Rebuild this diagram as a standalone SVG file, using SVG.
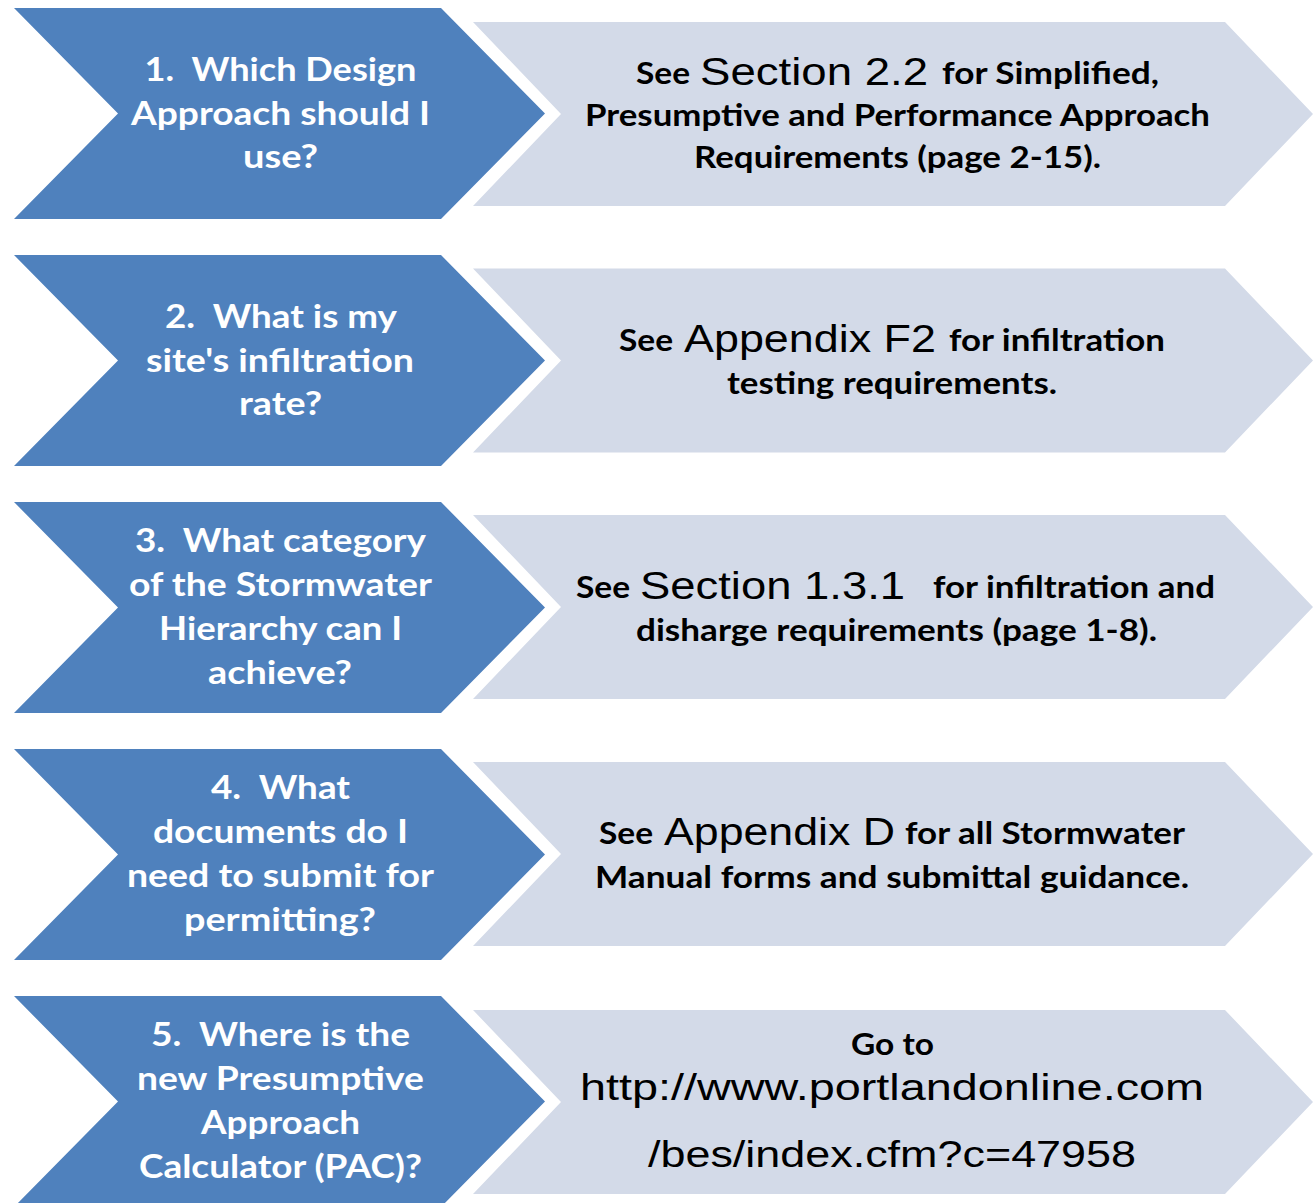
<svg xmlns="http://www.w3.org/2000/svg" width="1316" height="1203" viewBox="0 0 1316 1203" xml:space="preserve">
<style>
.blue{fill:#4F81BD}
.light{fill:#D3DAE8}
.q{font-family:Lato,"Open Sans","Liberation Sans",sans-serif;font-weight:700;font-size:33px;fill:#FFFFFF;text-anchor:middle;white-space:pre}
.a{font-family:Lato,"Open Sans","Liberation Sans",sans-serif;font-weight:700;font-size:30px;fill:#000000}
.c{text-anchor:middle}
.r{font-family:"Liberation Sans",Arial,sans-serif;font-weight:400;font-size:38px;fill:#000000}
.u{font-family:"Liberation Sans",Arial,sans-serif;font-weight:400;font-size:37px;fill:#000000;text-anchor:middle}
</style>
<defs>
<polygon id="bq" points="14,8 441,8 545,113.5 441,219 14,219 118,113.5"/>
<polygon id="la" points="473,22 1225,22 1313,114 1225,206 473,206 561,114"/>
</defs>
<rect width="1316" height="1203" fill="#FFFFFF"/>
<g id="connectors"></g>
<g id="q1">
<use href="#bq" class="blue"/>
<text class="q" x="280.5" y="80.5" textLength="272" lengthAdjust="spacingAndGlyphs">1.  Which Design</text>
<text class="q" x="280.5" y="124.5" textLength="299" lengthAdjust="spacingAndGlyphs">Approach should I</text>
<text class="q" x="280.5" y="168" textLength="75" lengthAdjust="spacingAndGlyphs">use?</text>
</g>
<g id="a1">
<use href="#la" class="light"/>
<text class="a" x="636" y="84" textLength="54" lengthAdjust="spacingAndGlyphs">See</text>
<text class="r" x="700" y="85" textLength="228" lengthAdjust="spacingAndGlyphs">Section 2.2</text>
<text class="a" x="942" y="84" textLength="217" lengthAdjust="spacingAndGlyphs">for Simplified,</text>
<text class="a c" x="897.5" y="126" textLength="625" lengthAdjust="spacingAndGlyphs">Presumptive and Performance Approach</text>
<text class="a c" x="897.5" y="168" textLength="407" lengthAdjust="spacingAndGlyphs">Requirements (page 2-15).</text>
</g>
<g id="q2">
<use href="#bq" class="blue" transform="translate(0,247)"/>
<text class="q" x="281" y="327.5" textLength="232" lengthAdjust="spacingAndGlyphs">2.  What is my</text>
<text class="q" x="280" y="371.5" textLength="268" lengthAdjust="spacingAndGlyphs">site's infiltration</text>
<text class="q" x="280.5" y="415" textLength="83" lengthAdjust="spacingAndGlyphs">rate?</text>
</g>
<g id="a2">
<use href="#la" class="light" transform="translate(0,246.5)"/>
<text class="a" x="619" y="351" textLength="54" lengthAdjust="spacingAndGlyphs">See</text>
<text class="r" x="684" y="352" textLength="252" lengthAdjust="spacingAndGlyphs">Appendix F2</text>
<text class="a" x="949" y="351" textLength="216" lengthAdjust="spacingAndGlyphs">for infiltration</text>
<text class="a c" x="892" y="394" textLength="330" lengthAdjust="spacingAndGlyphs">testing requirements.</text>
</g>
<g id="q3">
<use href="#bq" class="blue" transform="translate(0,494)"/>
<text class="q" x="280.5" y="551.5" textLength="291" lengthAdjust="spacingAndGlyphs">3.  What category</text>
<text class="q" x="280.5" y="595.5" textLength="303" lengthAdjust="spacingAndGlyphs">of the Stormwater</text>
<text class="q" x="280.5" y="639.5" textLength="243" lengthAdjust="spacingAndGlyphs">Hierarchy can I</text>
<text class="q" x="280" y="683.5" textLength="144" lengthAdjust="spacingAndGlyphs">achieve?</text>
</g>
<g id="a3">
<use href="#la" class="light" transform="translate(0,493)"/>
<text class="a" x="576" y="598" textLength="54" lengthAdjust="spacingAndGlyphs">See</text>
<text class="r" x="640" y="599" textLength="265" lengthAdjust="spacingAndGlyphs">Section 1.3.1</text>
<text class="a" x="933" y="598" textLength="282" lengthAdjust="spacingAndGlyphs">for infiltration and</text>
<text class="a c" x="896.5" y="641" textLength="521" lengthAdjust="spacingAndGlyphs">disharge requirements (page 1-8).</text>
</g>
<g id="q4">
<use href="#bq" class="blue" transform="translate(0,741)"/>
<text class="q" x="280.5" y="798.5" textLength="139" lengthAdjust="spacingAndGlyphs">4.  What</text>
<text class="q" x="280.5" y="842.5" textLength="255" lengthAdjust="spacingAndGlyphs">documents do I</text>
<text class="q" x="280.5" y="886.5" textLength="307" lengthAdjust="spacingAndGlyphs">need to submit for</text>
<text class="q" x="280" y="930.5" textLength="192" lengthAdjust="spacingAndGlyphs">permitting?</text>
</g>
<g id="a4">
<use href="#la" class="light" transform="translate(0,740)"/>
<text class="a" x="599" y="844" textLength="54" lengthAdjust="spacingAndGlyphs">See</text>
<text class="r" x="664" y="845" textLength="231" lengthAdjust="spacingAndGlyphs">Appendix D</text>
<text class="a" x="905" y="844" textLength="280" lengthAdjust="spacingAndGlyphs">for all Stormwater</text>
<text class="a c" x="892" y="888" textLength="594" lengthAdjust="spacingAndGlyphs">Manual forms and submittal guidance.</text>
</g>
<g id="q5">
<use href="#bq" class="blue" transform="translate(0,988)"/>
<text class="q" x="280.5" y="1045.5" textLength="259" lengthAdjust="spacingAndGlyphs">5.  Where is the</text>
<text class="q" x="280.5" y="1089.5" textLength="287" lengthAdjust="spacingAndGlyphs">new Presumptive</text>
<text class="q" x="280.5" y="1133.5" textLength="159" lengthAdjust="spacingAndGlyphs">Approach</text>
<text class="q" x="280.5" y="1177.5" textLength="283" lengthAdjust="spacingAndGlyphs">Calculator (PAC)?</text>
</g>
<g id="a5">
<use href="#la" class="light" transform="translate(0,988)"/>
<text class="a c" x="892.5" y="1055" textLength="83" lengthAdjust="spacingAndGlyphs">Go to</text>
<text class="u" x="892" y="1100" textLength="624" lengthAdjust="spacingAndGlyphs">http://www.portlandonline.com</text>
<text class="u" x="892" y="1167" textLength="488" lengthAdjust="spacingAndGlyphs">/bes/index.cfm?c=47958</text>
</g>
</svg>
